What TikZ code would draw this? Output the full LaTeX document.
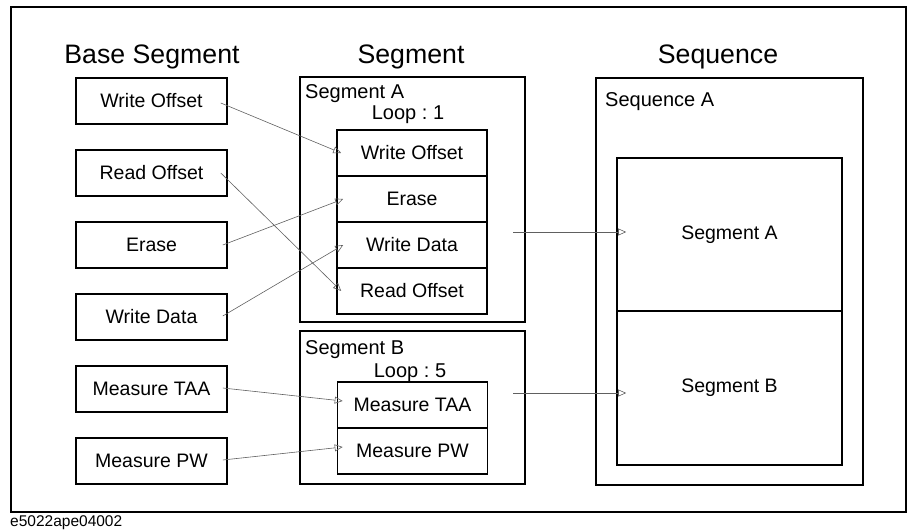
\documentclass[tikz,border=0pt]{standalone}
\usepackage{fontspec}
\setmainfont{Liberation Sans}
\usetikzlibrary{arrows.meta,calc}
\frenchspacing

\tikzset{
  box/.style={draw, line width=1.6pt, minimum width=151pt, minimum height=46pt, inner sep=0pt, font=\fontsize{19.5}{22}\selectfont},
  frame/.style={draw, line width=1.6pt, inner sep=0pt},
  link/.style={draw=gray!75!black, line width=0.6pt, -{Triangle[open,length=8pt,width=7pt]}},
  title/.style={font=\fontsize{26.7}{30}\selectfont},
  tag/.style={inner sep=0pt, font=\fontsize{20}{24}\selectfont}
}

\begin{document}
\begin{tikzpicture}[x=1pt,y=-1pt]
\useasboundingbox (0,0) rectangle (910,532);

% outer frame and caption
\draw[line width=1.8pt] (11,7) rectangle (906,512);
\node[anchor=west, inner sep=0pt, font=\fontsize{15.5}{18}\selectfont] (caption) at (10,523) {e5022ape04002};

\node[title] (tbase) at (152,57) {Base Segment};
\node[title] (tseg) at (411,57) {Segment};
\node[title] (tseq) at (718,57) {Sequence};

% base segments
\foreach \name/\y/\txt in {bwo/101/Write Offset, bro/173/Read Offset, ber/245/Erase, bwd/317/Write Data, bta/389/Measure TAA, bpw/461/Measure PW}{
    \node[box] (\name) at (151.5,\y) {\txt};
}

% segment A and B
\node[frame, minimum width=225pt, minimum height=245pt] (segA) at (412.5,199.5) {};
\node[tag, anchor=base west] (segAname) at (305,99) {Segment A};
\node[tag, anchor=base] (loopA) at (408,120) {Loop : 1};
\foreach \name/\y/\txt in {awo/153/Write Offset, aer/199/Erase, awd/245/Write Data, aro/291/Read Offset}{
    \node[box, minimum width=150pt] (\name) at (412,\y) {\txt};
}

\node[frame, minimum width=225pt, minimum height=153pt] (segB) at (412.5,407.5) {};
\node[tag, anchor=base west] (segBname) at (305,354) {Segment B};
\node[tag, anchor=base] (loopB) at (410,377) {Loop : 5};
\foreach \name/\y/\txt in {bmt/405/Measure TAA, bmp/451/Measure PW}{
    \node[box, minimum width=150pt] (\name) at (412.5,\y) {\txt};
}

% sequence
\node[frame, minimum width=267pt, minimum height=407pt] (seq) at (729.5,281.5) {};
\node[tag, anchor=base west] (seqname) at (605,107) {Sequence A};
\node[box, minimum width=225pt, minimum height=153pt] (seqA) at (729.5,234.5) {Segment A};
\node[box, minimum width=225pt, minimum height=154pt] (seqB) at (729.5,388) {Segment B};

% links
\draw[link] ([xshift=-7pt,yshift=-2pt]bwo.east) -- ([xshift=5pt]awo.west);
\draw[link] ([xshift=-7pt]bro.east) -- ([xshift=5pt]aro.west);
\draw[link] ([xshift=-5pt]ber.east) -- ([xshift=7pt]aer.west);
\draw[link] ([xshift=-5pt,yshift=1pt]bwd.east) -- ([xshift=7pt]awd.west);
\draw[link] ([xshift=-5pt,yshift=1pt]bta.east) -- ([xshift=6pt,yshift=4pt]bmt.west);
\draw[link] ([xshift=-5pt,yshift=1pt]bpw.east) -- ([xshift=6pt,yshift=4pt]bmp.west);

\coordinate (outA) at (513,232);
\coordinate (outB) at (513,393);
\draw[link] (outA) -- ($(outA -| seqA.west)+(10,0)$);
\draw[link] (outB) -- ($(outB -| seqB.west)+(10,0)$);

\end{tikzpicture}
\end{document}
